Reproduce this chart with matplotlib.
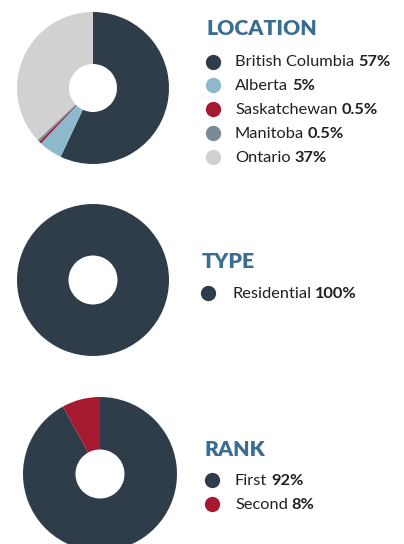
import matplotlib
matplotlib.use("Agg")
import matplotlib.pyplot as plt

# ---- data ----
location_labels = ["British Columbia", "Alberta", "Saskatchewan", "Manitoba", "Ontario"]
location_values = [57, 5, 0.5, 0.5, 37]
location_pct = ["57%", "5%", "0.5%", "0.5%", "37%"]

type_labels = ["Residential"]
type_values = [100]
type_pct = ["100%"]

rank_labels = ["First", "Second"]
rank_values = [92, 8]
rank_pct = ["92%", "8%"]

titles = ["LOCATION", "TYPE", "RANK"]

# ---- style ----
C_DARK = "#2f3c49"
C_LBLUE = "#8cb9cc"
C_RED = "#a51a2e"
C_GRAY = "#7a8a97"
C_LGRAY = "#d1d1d1"
C_TITLE = "#3a6d92"
C_TEXT = "#231f20"

location_colors = [C_DARK, C_LBLUE, C_RED, C_GRAY, C_LGRAY]
type_colors = [C_DARK]
rank_colors = [C_DARK, C_RED]

FONT = "Lato"
W, H = 404, 544
DPI = 100
fig = plt.figure(figsize=(W / DPI, H / DPI), dpi=DPI)

def pie_axes(cx, cy, r):
    ax = fig.add_axes([(cx - r) / W, (H - cy - r) / H, 2 * r / W, 2 * r / H])
    return ax

def donut(ax, values, colors, hole_r):
    ax.pie(values, colors=colors, startangle=90, counterclock=False,
           radius=1.0, wedgeprops=dict(width=1.0 - hole_r, linewidth=0))
    ax.set_xlim(-1, 1)
    ax.set_ylim(-1, 1)
    ax.set_aspect("equal")
    ax.axis("off")

donut(pie_axes(93, 88, 76), location_values, location_colors, 24 / 76)
donut(pie_axes(93, 280, 76), type_values, type_colors, 24.5 / 76)
donut(pie_axes(100, 474, 77), rank_values, rank_colors, 24.5 / 77)

# overlay axes in pixel coordinates for legends
ov = fig.add_axes([0, 0, 1, 1])
ov.set_xlim(0, W)
ov.set_ylim(H, 0)
ov.axis("off")

fig.canvas.draw()
renderer = fig.canvas.get_renderer()

def legend_block(title, tx, ty, mx, textx, ys, labels, pcts, colors):
    ov.text(tx, ty, title, fontsize=15.3, fontweight="heavy", color=C_TITLE,
            family=FONT, va="baseline", ha="left")
    for y, lab, pct, col in zip(ys, labels, pcts, colors):
        ov.plot([mx], [y], marker="o", markersize=11, color=col,
                markeredgewidth=0, linestyle="none")
        t = ov.text(textx, y + 5, lab, fontsize=11.8, color=C_TEXT,
                    family=FONT, va="baseline", ha="left")
        bb = t.get_window_extent(renderer=renderer)
        xd = ov.transData.inverted().transform((bb.x1, 0))[0]
        ov.text(xd + 3.8, y + 5, pct, fontsize=11.8, fontweight="bold",
                color=C_TEXT, family=FONT, va="baseline", ha="left")

legend_block(titles[0], 206, 35, 213, 235,
             [61.5 + 23.8 * i for i in range(5)],
             location_labels, location_pct, location_colors)
legend_block(titles[1], 202, 268, 208, 232, [293],
             type_labels, type_pct, type_colors)
legend_block(titles[2], 205, 456, 212, 235, [480, 504],
             rank_labels, rank_pct, rank_colors)

fig.savefig("out.png", dpi=DPI)
